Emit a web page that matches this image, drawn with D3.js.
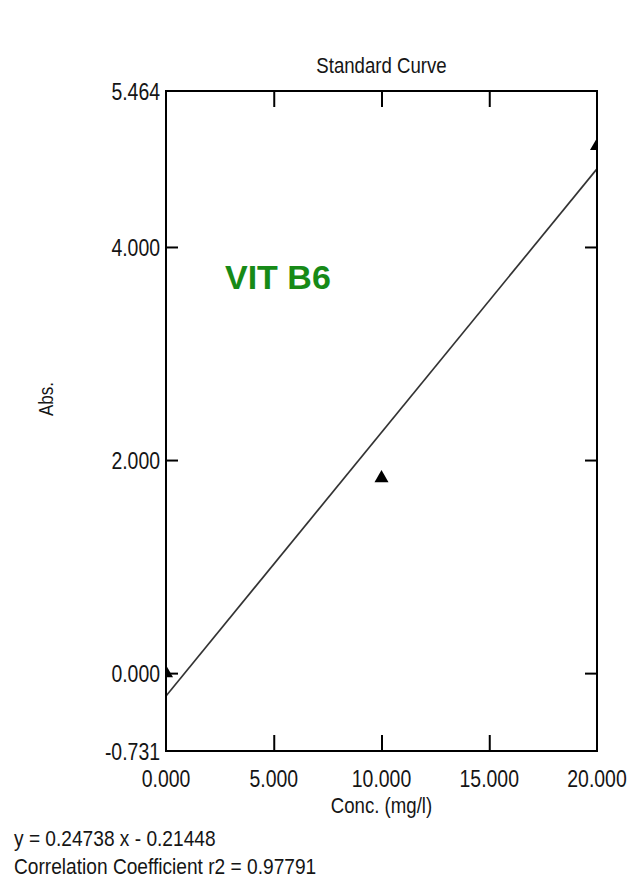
<!DOCTYPE html>
<html>
<head>
<meta charset="utf-8">
<script src="https://cdn.jsdelivr.net/npm/d3@7"></script>
<style>
  html, body { margin: 0; padding: 0; background: #fff; }
  svg { display: block; }
  text { font-family: "Liberation Sans", Arial, sans-serif; }
</style>
</head>
<body>
<script>
// ---- data ----
const concentrations = [0, 10, 20];          // mg/l
const absorbances = [0.000, 1.830, 4.948];   // Abs.
const xTickValues = [0, 5, 10, 15, 20];
const yTickValues = [-0.731, 0, 2, 4, 5.464];
const fitSlope = 0.24738;
const fitIntercept = -0.21448;
const r2 = 0.97791;
const chartTitle = "Standard Curve";
const xLabel = "Conc. (mg/l)";
const yLabel = "Abs.";
const annotation = "VIT B6";

const W = 629, H = 878;
const pL = 166, pR = 597, pT = 91, pB = 751;
const SX = 0.81; // narrow (condensed) text look

const svg = d3.select("body").append("svg").attr("width", W).attr("height", H);

const x = d3.scaleLinear().domain([0, 20]).range([pL, pR]);
const y = d3.scaleLinear().domain([-0.731, 5.464]).range([pB, pT]);

svg.append("defs").append("clipPath").attr("id", "plotclip")
  .append("rect").attr("x", pL).attr("y", pT).attr("width", pR - pL).attr("height", pB - pT);

const fmt = v => d3.format(".3f")(v).replace("\u2212", "-");

// helper: condensed text at a position
function ntext(parent, tx, ty, str, opts = {}) {
  const g = parent.append("g")
    .attr("transform", `translate(${tx},${ty})${opts.rotate ? ` rotate(${opts.rotate})` : ""} scale(${opts.sx || SX},1)`);
  g.append("text")
    .attr("x", 0).attr("y", 0)
    .attr("dy", opts.dy || null)
    .attr("text-anchor", opts.anchor || "start")
    .attr("font-size", opts.size || 24)
    .attr("fill", "#151515")
    .text(str);
  return g;
}

// title
ntext(svg, (pL + pR) / 2, 73, chartTitle, { anchor: "middle", size: 23 });

const innerX = xTickValues.filter(v => v > 0 && v < 20);
const innerY = yTickValues.filter(v => v > -0.731 && v < 5.464);

svg.append("g").attr("transform", `translate(0,${pB})`)
  .call(d3.axisTop(x).tickValues(innerX).tickSize(16).tickFormat(""))
  .call(g => g.select(".domain").remove())
  .call(g => g.selectAll("line").attr("stroke", "#000").attr("stroke-width", 2));
svg.append("g").attr("transform", `translate(0,${pT})`)
  .call(d3.axisBottom(x).tickValues(innerX).tickSize(16).tickFormat(""))
  .call(g => g.select(".domain").remove())
  .call(g => g.selectAll("line").attr("stroke", "#000").attr("stroke-width", 2));
svg.append("g").attr("transform", `translate(${pL},0)`)
  .call(d3.axisRight(y).tickValues(innerY).tickSize(12).tickFormat(""))
  .call(g => g.select(".domain").remove())
  .call(g => g.selectAll("line").attr("stroke", "#000").attr("stroke-width", 2));
svg.append("g").attr("transform", `translate(${pR},0)`)
  .call(d3.axisLeft(y).tickValues(innerY).tickSize(12).tickFormat(""))
  .call(g => g.select(".domain").remove())
  .call(g => g.selectAll("line").attr("stroke", "#000").attr("stroke-width", 2));

// tick labels
const xl = svg.append("g");
xTickValues.forEach(v => ntext(xl, x(v), 787, fmt(v), { anchor: "middle", size: 24 }));
const yl = svg.append("g");
yTickValues.forEach(v => ntext(yl, 160, y(v), fmt(v), { anchor: "end", size: 24, dy: "0.36em" }));

// regression line
const plot = svg.append("g").attr("clip-path", "url(#plotclip)");
const line = d3.line().x(d => x(d)).y(d => y(fitSlope * d + fitIntercept));
plot.append("path").datum([0, 20]).attr("d", line)
  .attr("fill", "none").attr("stroke", "#333").attr("stroke-width", 1.7);

// points
plot.selectAll("path.pt").data(concentrations).join("path")
  .attr("class", "pt")
  .attr("transform", (d, i) => `translate(${x(d)},${y(absorbances[i])})`)
  .attr("d", d3.symbol(d3.symbolTriangle, 85))
  .attr("fill", "#000");

// frame
svg.append("rect").attr("x", pL).attr("y", pT).attr("width", pR - pL).attr("height", pB - pT)
  .attr("fill", "none").attr("stroke", "#000").attr("stroke-width", 2);

// annotation
svg.append("text")
  .attr("x", 225).attr("y", 289)
  .attr("font-weight", "bold").attr("font-size", 34).attr("fill", "#178a17")
  .text(annotation);

// axis labels
ntext(svg, (pL + pR) / 2, 813, xLabel, { anchor: "middle", size: 23 });
ntext(svg, 53, 399, yLabel, { anchor: "middle", size: 21, rotate: -90 });

// equation
ntext(svg, 14, 846, `y = ${fitSlope.toFixed(5)} x - ${Math.abs(fitIntercept).toFixed(5)}`, { size: 22, sx: 0.87 });
ntext(svg, 14, 874, `Correlation Coefficient r2 = ${r2.toFixed(5)}`, { size: 22, sx: 0.87 });
</script>
</body>
</html>
